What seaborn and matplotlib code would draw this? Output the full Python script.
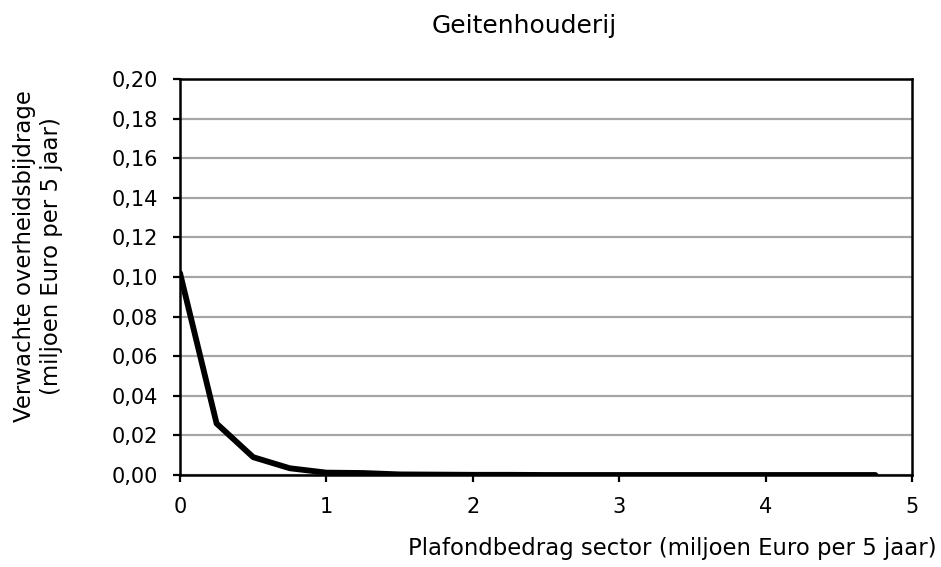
import matplotlib
matplotlib.use("Agg")
import matplotlib.pyplot as plt
import seaborn as sns
import pandas as pd

x_vals = [0, 0.25, 0.5, 0.75, 1.0, 1.25, 1.5, 1.75, 2.0, 2.25, 2.5, 2.75, 3.0, 3.25,
          3.5, 3.75, 4.0, 4.25, 4.5, 4.75]
y_vals = [0.102, 0.026, 0.009, 0.0034, 0.0012, 0.001, 0.0003, 0.0002, 0.0001, 0.0001,
          0.0, 0.0, 0.0, 0.0, 0.0, 0.0, 0.0, 0.0, 0.0, 0.0]
x_ticks = [0, 1, 2, 3, 4, 5]
y_ticks = [0.00, 0.02, 0.04, 0.06, 0.08, 0.10, 0.12, 0.14, 0.16, 0.18, 0.20]

sns.set_theme(style="white")
plt.rcParams['font.family'] = ['DejaVu Sans']

FS_TICK = 15
FS_LABEL = 16.4
FS_TITLE = 18

W, H = 941, 567
fig = plt.figure(figsize=(W/100, H/100), dpi=100)
ax = fig.add_axes([180/W, 1-475/H, (912-180)/W, (475-79)/H])

df = pd.DataFrame({"x": x_vals, "y": y_vals})
sns.lineplot(data=df, x="x", y="y", ax=ax, color="black", linewidth=4.2, zorder=3)

ax.set_xlim(0, 5)
ax.set_ylim(0, 0.20)
ax.set_xticks(x_ticks)
ax.set_yticks(y_ticks)
ax.set_xticklabels([str(t) for t in x_ticks], fontsize=FS_TICK)
ax.set_yticklabels([f"{t:.2f}".replace(".", ",") for t in y_ticks], fontsize=FS_TICK)
ax.yaxis.grid(True, color="#a6a6a6", linewidth=1.6)
ax.xaxis.grid(False)
for s in ax.spines.values():
    s.set_color("black")
    s.set_linewidth(1.8)
ax.tick_params(axis="both", direction="out", length=5, width=1.6, color="black",
               labelcolor="black", bottom=True, left=True, pad=11)
ax.set_xlabel("")
ax.set_ylabel("")

fig.text(524/W, 1-32.5/H, "Geitenhouderij", ha="center", va="baseline",
         fontsize=FS_TITLE, color="black")
fig.text(937/W, 1-555/H, "Plafondbedrag sector (miljoen Euro per 5 jaar)", ha="right",
         va="baseline", fontsize=FS_LABEL, color="black")
fig.text(38/W, 1-256/H, "Verwachte overheidsbijdrage\n(miljoen Euro per 5 jaar)", ha="center",
         va="center", rotation=90, fontsize=FS_LABEL, color="black", linespacing=1.2,
         multialignment="center")

fig.savefig("out.png", dpi=100, facecolor="white")
